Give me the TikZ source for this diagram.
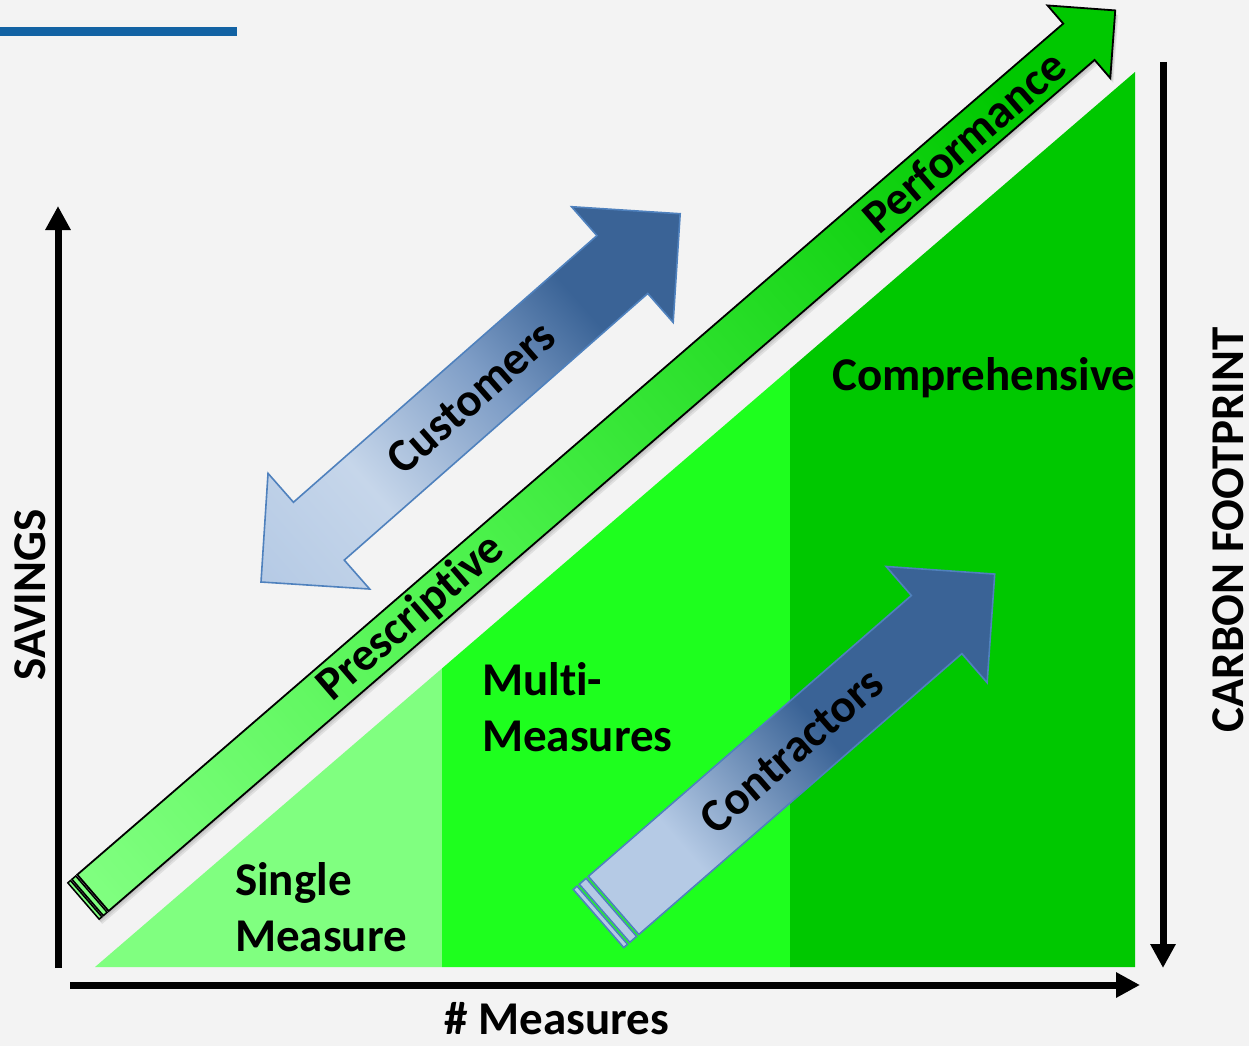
\documentclass[tikz,border=0pt]{standalone}
\usepackage{fontspec}
\setmainfont{Carlito}[Ligatures=NoCommon]
\usetikzlibrary{arrows.meta}

\definecolor{slidebg}{HTML}{F3F3F3}
\definecolor{titlebar}{HTML}{1262A3}
\definecolor{singlegreen}{HTML}{80FF80}
\definecolor{multigreen}{HTML}{1EFF1E}
\definecolor{compgreen}{HTML}{00C800}
\definecolor{midgreen}{HTML}{4CF24C}
\definecolor{bluedark}{HTML}{3A6396}
\definecolor{bluemid}{HTML}{7E9DC6}
\definecolor{bluelight}{HTML}{C6D6EA}
\definecolor{bluepale}{HTML}{B5CAE5}
\definecolor{blueedge}{HTML}{4F81BD}

% shadings along the arrows (25bp..75bp is the visible part)
\pgfdeclarehorizontalshading{greenarrow}{100bp}{color(0bp)=(singlegreen); color(25bp)=(singlegreen);
  color(44bp)=(midgreen); color(70bp)=(compgreen); color(100bp)=(compgreen)}
\pgfdeclarehorizontalshading{customerarrow}{100bp}{color(0bp)=(bluepale); color(25bp)=(bluepale);
  color(38bp)=(bluelight); color(52bp)=(bluemid); color(63bp)=(bluedark); color(100bp)=(bluedark)}
\pgfdeclarehorizontalshading{contractorarrow}{100bp}{color(0bp)=(bluepale); color(25bp)=(bluepale);
  color(34bp)=(bluepale); color(52bp)=(bluedark); color(100bp)=(bluedark)}

\begin{document}
\begin{tikzpicture}[x=1pt, y=-1pt,
  axis/.style={line width=7pt, -{Triangle[length=24pt,width=24pt]}},
  bigtext/.style={font=\fontsize{47}{56}\selectfont\bfseries, inner sep=0pt},
  shadowed/.style={fill=black, opacity=.08}]

  % slide background and the little bar in the corner
  \fill[slidebg] (0,0) rectangle (1249,1046);
  \useasboundingbox (0,0) rectangle (1249,1046);
  \fill[titlebar] (0,27) rectangle (237,36);

  % the three green steps under the diagonal
  \fill[singlegreen] (95,967) -- (442,668.4) -- (442,967) -- cycle;
  \fill[multigreen] (442,967) -- (442,668.4) -- (790,368.9) -- (790,967) -- cycle;
  \fill[compgreen] (790,967) -- (790,368.9) -- (1135,72) -- (1135,967) -- cycle;

  \node[bigtext, anchor=north west, align=left] (single) at (235,862) {Single\\Measure};
  \node[bigtext, anchor=north west, align=left] (multi) at (482,662) {Multi-\\Measures};
  \node[bigtext, anchor=base west] (comp) at (832,390) {Comprehensive};

  % axes
  \coordinate (sav0) at (58,968);
  \coordinate (sav1) at (58,206);
  \coordinate (meas0) at (70,985);
  \coordinate (meas1) at (1140,985);
  \coordinate (carb0) at (1163,62);
  \coordinate (carb1) at (1163,968);
  \draw[axis] (sav0) -- (sav1);
  \draw[axis] (meas0) -- (meas1);
  \draw[axis] (carb0) -- (carb1);

  \node[bigtext, anchor=base] (measures) at (557,1034) {\# Measures};
  \node[bigtext, anchor=base, rotate=90] (savings) at (45,595) {SAVINGS};
  \node[bigtext, anchor=base, rotate=90] (carbon) at (1243,530) {CARBON FOOTPRINT};

  % soft shadow under the green arrow
  \foreach \d in {2,4,6} {
    \begin{scope}[transform canvas={shift={(83.5+\d*0.5,901+\d*0.8)}, rotate=40.8}]
      \fill[shadowed] (0,-24) -- (1315,-24) -- (1315,-48) -- (1363,0) -- (1315,48) -- (1315,24) -- (0,24) -- cycle;
    \end{scope}
  }

  % long green arrow, drawn along its own axis
  \begin{scope}[transform canvas={shift={(83.5,901)}, rotate=40.8}]
    \shadedraw[shading=greenarrow, draw=black, line width=1.8pt]
      (12.5,-24) -- (1315,-24) -- (1315,-48) -- (1363,0) -- (1315,48) -- (1315,24) -- (12.5,24) -- cycle;
    \filldraw[fill=singlegreen, draw=black, line width=1.5pt]
      (0,-24) rectangle (3.5,24) (5.5,-24) rectangle (10.5,24);
    \node[bigtext] (prescriptive) at (433,0) {Prescriptive};
    \node[bigtext] (performance) at (1163,0) {Performance};
  \end{scope}

  % customers, two heads
  \begin{scope}[transform canvas={shift={(261,582)}, rotate=41.3}]
    \shadedraw[shading=customerarrow, draw=blueedge, line width=1.6pt]
      (0,0) -- (77,-77) -- (77,-38.5) -- (481,-38.5) -- (481,-77) -- (558,0)
      -- (481,77) -- (481,38.5) -- (77,38.5) -- (77,77) -- cycle;
    \node[bigtext] (customers) at (280,0) {Customers};
  \end{scope}

  % contractors, striped tail
  \begin{scope}[transform canvas={shift={(598.5,918.5)}, rotate=41.0}]
    \shadedraw[shading=contractorarrow, draw=blueedge, line width=1.6pt]
      (20,-38.5) -- (448,-38.5) -- (448,-77) -- (525,0) -- (448,77) -- (448,38.5) -- (20,38.5) -- cycle;
    \filldraw[fill=bluepale, draw=blueedge, line width=1.6pt]
      (0,-38.5) rectangle (5,38.5) (8,-38.5) rectangle (17,38.5);
    \node[bigtext] (contractors) at (256,0) {Contractors};
  \end{scope}
\end{tikzpicture}
\end{document}
